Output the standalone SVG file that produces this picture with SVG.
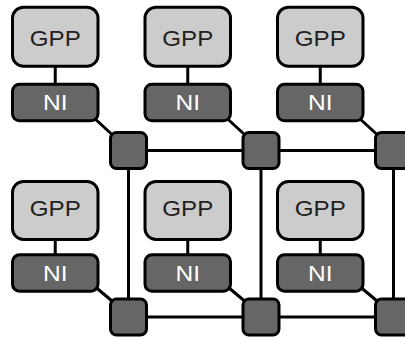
<svg xmlns="http://www.w3.org/2000/svg" width="405" height="338" viewBox="0 0 405 338">
<style>
.gpp{fill:#cccccc;stroke:#000;stroke-width:3}
.ni{fill:#666666;stroke:#000;stroke-width:3}
.r{fill:#666666;stroke:#000;stroke-width:3}
.w{stroke:#000;stroke-width:3;fill:none}
.tg{font-family:"Liberation Sans",Arial,sans-serif;font-size:22.5px;fill:#222;text-anchor:middle}
.tn{font-family:"Liberation Sans",Arial,sans-serif;font-size:22.5px;fill:#fff;text-anchor:middle}
</style>
<rect width="405" height="338" fill="#fff"/>
<g id="connectors">
<line class="w" x1="55.25" y1="66" x2="55.25" y2="85"/>
<line class="w" x1="187.75" y1="66" x2="187.75" y2="85"/>
<line class="w" x1="320.25" y1="66" x2="320.25" y2="85"/>
<line class="w" x1="55.25" y1="239" x2="55.25" y2="256"/>
<line class="w" x1="187.75" y1="239" x2="187.75" y2="256"/>
<line class="w" x1="320.25" y1="239" x2="320.25" y2="256"/>
<line class="w" x1="93" y1="117" x2="118" y2="140"/>
<line class="w" x1="225.5" y1="117" x2="250.5" y2="140"/>
<line class="w" x1="358" y1="117" x2="383" y2="140"/>
<line class="w" x1="93" y1="285" x2="118" y2="306"/>
<line class="w" x1="225.5" y1="285" x2="250.5" y2="306"/>
<line class="w" x1="358" y1="285" x2="383" y2="306"/>
<line class="w" x1="128.5" y1="150.5" x2="405" y2="150.5"/>
<line class="w" x1="128.5" y1="317" x2="405" y2="317"/>
<line class="w" x1="128.5" y1="150.5" x2="128.5" y2="317"/>
<line class="w" x1="261" y1="150.5" x2="261" y2="317"/>
<line class="w" x1="393.5" y1="150.5" x2="393.5" y2="317"/>
</g>
<g id="gpp-1-1"><rect class="gpp" x="12.5" y="7.2" width="85.5" height="59" rx="11"/><text class="tg" x="55.25" y="45.5" textLength="51" lengthAdjust="spacingAndGlyphs">GPP</text></g>
<g id="gpp-1-2"><rect class="gpp" x="145" y="7.2" width="85.5" height="59" rx="11"/><text class="tg" x="187.75" y="45.5" textLength="51" lengthAdjust="spacingAndGlyphs">GPP</text></g>
<g id="gpp-1-3"><rect class="gpp" x="277.5" y="7.2" width="85.5" height="59" rx="11"/><text class="tg" x="320.25" y="45.5" textLength="51" lengthAdjust="spacingAndGlyphs">GPP</text></g>
<g id="ni-1-1"><rect class="ni" x="12.5" y="84.2" width="85.5" height="36.6" rx="7"/><text class="tn" x="55.25" y="110" textLength="24.5" lengthAdjust="spacingAndGlyphs">NI</text></g>
<g id="ni-1-2"><rect class="ni" x="145" y="84.2" width="85.5" height="36.6" rx="7"/><text class="tn" x="187.75" y="110" textLength="24.5" lengthAdjust="spacingAndGlyphs">NI</text></g>
<g id="ni-1-3"><rect class="ni" x="277.5" y="84.2" width="85.5" height="36.6" rx="7"/><text class="tn" x="320.25" y="110" textLength="24.5" lengthAdjust="spacingAndGlyphs">NI</text></g>
<g id="gpp-2-1"><rect class="gpp" x="12.5" y="181.5" width="85.5" height="58" rx="11"/><text class="tg" x="55.25" y="215.5" textLength="51" lengthAdjust="spacingAndGlyphs">GPP</text></g>
<g id="gpp-2-2"><rect class="gpp" x="145" y="181.5" width="85.5" height="58" rx="11"/><text class="tg" x="187.75" y="215.5" textLength="51" lengthAdjust="spacingAndGlyphs">GPP</text></g>
<g id="gpp-2-3"><rect class="gpp" x="277.5" y="181.5" width="85.5" height="58" rx="11"/><text class="tg" x="320.25" y="215.5" textLength="51" lengthAdjust="spacingAndGlyphs">GPP</text></g>
<g id="ni-2-1"><rect class="ni" x="12.5" y="254.8" width="85.5" height="36.4" rx="7"/><text class="tn" x="55.25" y="281" textLength="24.5" lengthAdjust="spacingAndGlyphs">NI</text></g>
<g id="ni-2-2"><rect class="ni" x="145" y="254.8" width="85.5" height="36.4" rx="7"/><text class="tn" x="187.75" y="281" textLength="24.5" lengthAdjust="spacingAndGlyphs">NI</text></g>
<g id="ni-2-3"><rect class="ni" x="277.5" y="254.8" width="85.5" height="36.4" rx="7"/><text class="tn" x="320.25" y="281" textLength="24.5" lengthAdjust="spacingAndGlyphs">NI</text></g>
<g id="router-1-1"><rect class="r" x="110.5" y="132.5" width="36" height="36" rx="6"/></g>
<g id="router-1-2"><rect class="r" x="243" y="132.5" width="36" height="36" rx="6"/></g>
<g id="router-1-3"><rect class="r" x="375.5" y="132.5" width="36" height="36" rx="6"/></g>
<g id="router-2-1"><rect class="r" x="110.5" y="299" width="36" height="36" rx="6"/></g>
<g id="router-2-2"><rect class="r" x="243" y="299" width="36" height="36" rx="6"/></g>
<g id="router-2-3"><rect class="r" x="375.5" y="299" width="36" height="36" rx="6"/></g>
</svg>
